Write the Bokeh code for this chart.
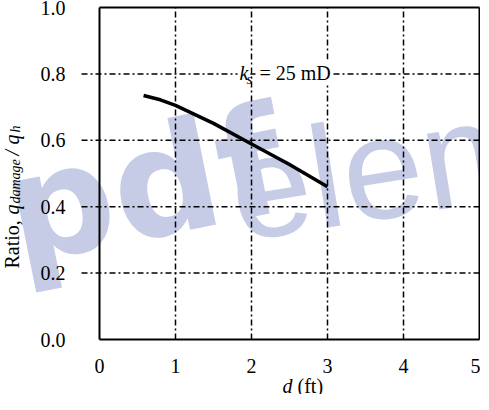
from math import pi
from bokeh.plotting import figure
from bokeh.models import Range1d, FixedTicker, Label, LinearAxis
from bokeh.embed import file_html
from bokeh.resources import INLINE

# ---- data ----
d_ft = [0.58, 0.8, 1.0, 1.5, 2.0, 2.5, 3.0]
ratio = [0.735, 0.722, 0.705, 0.651, 0.589, 0.527, 0.46]
x_ticks = [0, 1, 2, 3, 4, 5]
y_ticks = [0.0, 0.2, 0.4, 0.6, 0.8, 1.0]
y_tick_labels = ["0.0", "0.2", "0.4", "0.6", "0.8", "1.0"]
x_lim = [0, 5]
y_lim = [0, 1]
curve_label = "= 25 mD"

SERIF = "Liberation Serif"
DASH = "6 3 2 3"

# layout helpers: reference pixel -> data coordinates
# (axis box spans x 107..487, y 15..347 in the reference picture; page margin 8px)
def px2x(X):
    return (X - 107) / 76.0

def px2y(Y):
    return (347 - Y) / 332.0

W, H = 480, 394
p = figure(width=W, height=H, output_backend="svg", toolbar_location=None,
           x_range=Range1d(px2x(8), px2x(8 + W)), y_range=Range1d(px2y(8 + H), px2y(8)),
           min_border=0, background_fill_color="white", border_fill_color="white",
           x_axis_type=None, y_axis_type=None)
p.outline_line_color = None
p.xgrid.visible = False
p.ygrid.visible = False

# watermark (drawn first, under everything)
WM = "#c6cbe6"
p.add_layout(Label(x=px2x(15), y=px2y(221), text="pdf", angle=0.2, level="image",
                   text_font="DejaVu Sans", text_font_style="bold", text_font_size="150px",
                   text_color=WM, text_baseline="alphabetic"))
p.add_layout(Label(x=px2x(238), y=px2y(200), text="elem", angle=0.16, level="image",
                   text_font="Liberation Sans", text_font_size="145px",
                   text_color=WM, text_baseline="alphabetic"))

# dash-dot grid (horizontal lines poke out left of the box like ticks)
inner_x = [t for t in x_ticks if x_lim[0] < t < x_lim[1]]
inner_y = [t for t in y_ticks if y_lim[0] < t < y_lim[1]]
tick_ext = px2x(89)
p.segment(x0=inner_x, y0=[y_lim[0]] * len(inner_x), x1=inner_x, y1=[y_lim[1]] * len(inner_x),
          line_color="black", line_width=1.5, line_dash=DASH)
p.segment(x0=[tick_ext] * len(inner_y), y0=inner_y, x1=[x_lim[1]] * len(inner_y), y1=inner_y,
          line_color="black", line_width=1.5, line_dash=DASH)

# top and right sides of the box
p.segment(x0=[x_lim[0], x_lim[1]], y0=[y_lim[1], y_lim[0]], x1=[x_lim[1], x_lim[1]],
          y1=[y_lim[1], y_lim[1]], line_color="black", line_width=2)

# axes at fixed locations (left and bottom sides of the box)
xa = LinearAxis(fixed_location=y_lim[0], bounds=tuple(x_lim), ticker=FixedTicker(ticks=x_ticks))
xa.major_tick_in = 0
xa.major_tick_out = 0
xa.minor_tick_line_color = None
xa.axis_line_width = 2
xa.major_label_text_font = SERIF
xa.major_label_text_font_size = "20px"
xa.major_label_text_color = "black"
xa.major_label_standoff = 19
p.add_layout(xa, "below")

ya = LinearAxis(fixed_location=x_lim[0], bounds=tuple(y_lim), ticker=FixedTicker(ticks=y_ticks))
ya.major_label_overrides = {t: s for t, s in zip(y_ticks, y_tick_labels)}
ya.major_tick_in = 0
ya.major_tick_out = 0
ya.minor_tick_line_color = None
ya.axis_line_width = 2
ya.major_label_text_font = SERIF
ya.major_label_text_font_size = "20px"
ya.major_label_text_color = "black"
ya.major_label_standoff = 34
p.add_layout(ya, "left")

# curve
p.line(d_ft, ratio, line_color="black", line_width=3.5)

def lab(X, Y, txt, style="normal", size=20, angle=0.0, bg=None):
    # X, Y: wanted baseline start; label is drawn ~0.4em below its anchor
    if angle:
        X = X - 0.4 * size
    else:
        Y = Y - 0.4 * size
    p.add_layout(Label(x=px2x(X), y=px2y(Y), text=txt, angle=angle, text_font=SERIF,
                       text_font_style=style, text_font_size=f"{size}px",
                       text_color="black", text_baseline="alphabetic",
                       background_fill_color=bg, padding=2 if bg else 0))

# curve annotation k_s = 25 mD (white box hides the grid behind it)
lab(265, 88, curve_label, bg="white")
lab(245, 88, "k", "italic", bg="white")
lab(254, 92, "s", "italic", 15)

# y axis label pieces (rotated)
ylab = [("Ratio, ", "normal", 20, 27, 276),
        ("q", "italic", 20, 27, 222),
        ("damage", "italic", 14, 29, 211),
        ("/", "italic", 20, 27, 163),
        ("q", "italic", 20, 27, 152),
        ("h", "italic", 14, 29, 140)]
for txt, sty, sz, X, Y in ylab:
    lab(X, Y, txt, sty, sz, pi / 2)

# x axis label
lab(290, 401, "d", "italic")
lab(305, 401, "(ft)")

open("out.html", "w").write(file_html(p, INLINE))
